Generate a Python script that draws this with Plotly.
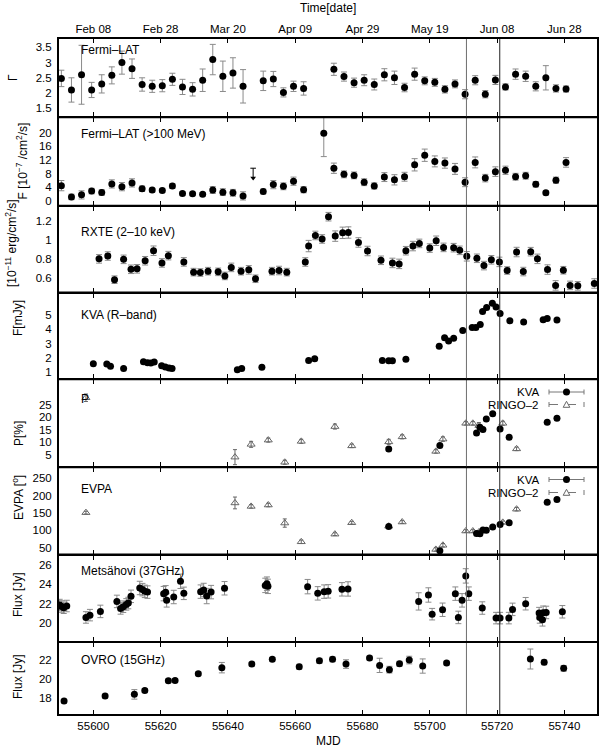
import plotly.graph_objects as go

# ---------------- data ----------------
DATE_MJD = [55600, 55620, 55640, 55660, 55680, 55700, 55720, 55740]
DATE_LABELS = ["Feb 08", "Feb 28", "Mar 20", "Apr 09", "Apr 29", "May 19", "Jun 08", "Jun 28"]
MJD_LABELS = ["55600", "55620", "55640", "55660", "55680", "55700", "55720", "55740"]
FLARE_LINES = [55710.9, 55720.8]

# Fermi-LAT photon index
GAMMA_MJD = [55590.5, 55593.5, 55596.5, 55599.5, 55602.5, 55605.5, 55608.5, 55611.5, 55614.5, 55617.5,
             55620.5, 55623.5, 55626.5, 55629.5, 55632.5, 55635.5, 55638.5, 55641.5, 55644.5,
             55650.5, 55653.5, 55656.5, 55659.5, 55662.5,
             55671.5, 55674.5, 55677.5, 55680.5, 55683.5, 55686.5, 55689.5, 55692.5, 55695.5, 55698.5,
             55701.5, 55704.5, 55707.5, 55710.5, 55713.5, 55716.5, 55719.5, 55722.5, 55725.5, 55728.5,
             55731.5, 55734.5, 55737.5, 55740.5]
GAMMA = [2.48, 2.1, 2.6, 2.1, 2.3, 2.58, 3.0, 2.8, 2.28, 2.22, 2.24, 2.45, 2.2, 2.12, 2.42, 3.1, 2.55, 2.66, 2.22,
         2.4, 2.46, 2.02, 2.22, 2.15,
         2.78, 2.54, 2.34, 2.42, 2.28, 2.6, 2.5, 2.18, 2.62, 2.4, 2.35, 2.12, 2.3, 1.96, 2.42, 1.96, 2.43, 2.2,
         2.62, 2.55, 2.22, 2.5, 2.15, 2.13]
GAMMA_ERR = [0.27, 0.4, 0.97, 0.25, 0.3, 0.28, 0.38, 0.32, 0.22, 0.2, 0.2, 0.2, 0.25, 0.22, 0.37, 0.5, 0.5, 0.5, 0.55,
             0.32, 0.25, 0.15, 0.17, 0.22,
             0.2, 0.15, 0.15, 0.18, 0.18, 0.2, 0.22, 0.14, 0.2, 0.13, 0.13, 0.12, 0.13, 0.15, 0.15, 0.12, 0.15, 0.1,
             0.17, 0.17, 0.15, 0.4, 0.12, 0.1]

# Fermi-LAT flux > 100 MeV
FLUX_MJD = [55590.5, 55593.5, 55596.5, 55599.5, 55602.5, 55605.5, 55608.5, 55611.5, 55614.5, 55617.5,
            55620.5, 55623.5, 55626.5, 55629.5, 55632.5, 55635.5, 55638.5, 55641.5, 55644.5,
            55650.5, 55653.5, 55656.5, 55659.5, 55662.5, 55668.5,
            55671.5, 55674.5, 55677.5, 55680.5, 55683.5, 55686.5, 55689.5, 55692.5, 55695.5, 55698.5,
            55701.5, 55704.5, 55707.5, 55710.5, 55713.5, 55716.5, 55719.5, 55722.5, 55725.5, 55728.5,
            55731.5, 55734.5, 55737.5, 55740.5]
FLUX = [4.5, 1.2, 1.8, 2.9, 2.5, 5.0, 4.2, 5.3, 3.6, 3.2, 3.1, 4.4, 2.2, 2.1, 2.0, 3.2, 2.6, 2.4, 1.5,
        2.8, 4.8, 4.3, 5.8, 3.3, 19.8,
        9.6, 7.8, 7.5, 5.5, 4.4, 7.0, 6.2, 7.1, 10.6, 13.4, 11.6, 11.1, 9.4, 5.5, 11.3, 6.7, 8.6, 9.0,
        7.1, 7.4, 4.9, 2.4, 6.1, 11.3]
FLUX_ERR = [1.5, 0.8, 1.2, 0.8, 0.8, 1.2, 1.2, 1.2, 0.8, 0.6, 0.6, 0.7, 0.5, 0.5, 0.5, 1.0, 1.0, 1.0, 1.2,
            0.7, 1.2, 1.0, 1.2, 0.9, 6.8,
            1.5, 1.0, 1.0, 1.0, 0.9, 1.3, 1.5, 1.3, 1.8, 1.8, 1.6, 1.5, 1.6, 1.3, 1.6, 1.1, 1.4, 1.2,
            1.0, 1.0, 0.8, 0.6, 0.9, 1.4]
UL_MJD = [55647.5]
UL_VALUE = [9.6]
UL_ARROW = [6.7]

# RXTE 2-10 keV
RXTE_MJD = [55601.7, 55604.3, 55606.3, 55609.0, 55611.2, 55613.0, 55615.4, 55617.9, 55620.4, 55622.3,
            55626.9, 55629.8, 55631.8, 55634.1, 55637.1, 55639.1, 55641.0, 55643.9, 55646.2, 55648.2,
            55653.1, 55655.2, 55657.5, 55663.0, 55664.0, 55666.0, 55668.0, 55669.9, 55671.9, 55674.1,
            55675.8, 55678.8, 55681.5, 55685.5, 55688.9, 55690.9, 55692.9, 55695.0, 55696.9, 55700.0,
            55701.9, 55704.1, 55707.1, 55708.9, 55711.0, 55714.0, 55716.1, 55718.3, 55720.7, 55723.0,
            55725.8, 55727.8, 55730.0, 55732.0, 55735.0, 55737.4, 55739.7, 55741.7, 55744.0, 55748.9]
RXTE = [0.80, 0.83, 0.58, 0.795, 0.69, 0.695, 0.78, 0.886, 0.757, 0.834,
        0.768, 0.66, 0.656, 0.67, 0.663, 0.62, 0.71, 0.67, 0.684, 0.59,
        0.67, 0.677, 0.66, 0.767, 0.935, 1.047, 1.01, 1.245, 1.04, 1.075,
        1.078, 0.973, 0.883, 0.785, 0.757, 0.747, 0.886, 0.935, 0.963, 0.914,
        0.991, 0.921, 0.918, 0.89, 0.827, 0.806, 0.729, 0.79, 0.768, 0.677,
        0.872, 0.666, 0.876, 0.80, 0.687, 0.52, 0.68, 0.52, 0.515, 0.54]
RXTE_ERR = [0.045, 0.045, 0.04, 0.045, 0.045, 0.045, 0.045, 0.05, 0.045, 0.045,
            0.045, 0.04, 0.04, 0.04, 0.04, 0.04, 0.045, 0.04, 0.045, 0.04,
            0.04, 0.045, 0.04, 0.045, 0.06, 0.045, 0.045, 0.045, 0.055, 0.06,
            0.06, 0.05, 0.05, 0.045, 0.05, 0.05, 0.045, 0.05, 0.045, 0.045,
            0.05, 0.045, 0.045, 0.045, 0.05, 0.045, 0.045, 0.045, 0.05, 0.04,
            0.05, 0.045, 0.045, 0.05, 0.05, 0.05, 0.04, 0.045, 0.045, 0.05]

# KVA R-band flux
KVA_MJD = [55600.0, 55604.0, 55605.1, 55609.0, 55614.9, 55616.1, 55617.1, 55618.1, 55620.3, 55621.4,
           55622.5, 55623.4, 55642.8, 55644.1, 55650.1, 55664.0, 55665.8, 55685.9, 55687.8, 55688.9,
           55692.9, 55702.8, 55704.4, 55705.6, 55707.1, 55709.8, 55712.6, 55713.7, 55715.0, 55715.7,
           55716.9, 55718.6, 55719.7, 55720.9, 55723.8, 55727.9, 55733.7, 55734.9, 55737.8]
KVA_FLUX = [1.6, 1.58, 1.42, 1.28, 1.74, 1.67, 1.65, 1.72, 1.46, 1.37,
            1.3, 1.28, 1.18, 1.28, 1.35, 1.83, 1.95, 1.83, 1.81, 1.81,
            1.92, 2.82, 3.4, 3.17, 3.36, 3.91, 4.12, 4.12, 4.33, 5.23,
            5.5, 5.8, 5.53, 5.09, 4.58, 4.49, 4.65, 4.74, 4.63]

# Polarization
RINGO_MJD = [55597.8, 55642.1, 55646.9, 55652.0, 55656.9, 55661.8, 55671.8, 55676.8, 55687.8, 55691.8,
             55701.8, 55703.9, 55710.7, 55712.8, 55714.6, 55721.7, 55725.8]
RINGO_P = [27.8, 4.1, 9.2, 10.9, 2.05, 10.4, 16.3, 8.6, 10.2, 12.2, 6.4, 11.3, 17.6, 17.6, 16.7, 17.6, 7.4]
RINGO_P_ERR = [1.5, 3.0, 1.2, 0.8, 0.8, 0.8, 1.0, 0.7, 1.0, 0.8, 0.7, 0.9, 0.7, 0.7, 1.2, 0.8, 0.7]
RINGO_EVPA = [151, 179, 169, 173, 121, 67, 89, 122, 112, 124, 45, 57, 98, 98, 95, 123, 161]
RINGO_EVPA_ERR = [4, 17, 5, 5, 12, 5, 4, 4, 4, 4, 5, 5, 4, 4, 4, 4, 5]

KVAPOL_MJD = [55687.8, 55703.0, 55713.9, 55714.9, 55715.8, 55716.8, 55718.7, 55720.9, 55723.6, 55734.9, 55737.8]
KVA_P = [7.4, 8.7, 13.7, 16.0, 15.1, 19.3, 21.4, 15.3, 12.0, 18.0, 19.6]
KVA_EVPA = [111, 41, 91, 90, 101, 100, 110, 117, 122, 181, 189]

# Metsahovi 37 GHz
MET_MJD = [55590.0, 55590.6, 55591.2, 55592.1, 55597.8, 55599.0, 55602.1, 55607.0, 55608.1, 55608.9,
           55609.8, 55610.4, 55611.2, 55613.8, 55614.6, 55615.3, 55616.1, 55620.9, 55621.5, 55621.8,
           55623.9, 55625.9, 55626.9, 55631.9, 55632.8, 55633.7, 55635.0, 55639.0, 55651.1, 55651.6,
           55651.9, 55663.7, 55666.7, 55668.6, 55669.8, 55673.9, 55675.7, 55696.7, 55699.6, 55700.7,
           55703.8, 55707.6, 55708.5, 55709.6, 55710.7, 55711.6, 55715.6, 55719.7, 55720.9, 55723.5,
           55724.6, 55728.5, 55732.5, 55732.7, 55733.5, 55733.7, 55734.6, 55739.4]
MET_FLUX = [21.85, 21.7, 21.57, 21.75, 20.56, 20.8, 21.19, 22.23, 21.5, 21.68,
            21.92, 22.06, 22.76, 23.63, 23.46, 23.28, 23.2, 23.04, 23.18, 22.34,
            22.69, 24.33, 23.07, 23.25, 23.42, 22.79, 23.2, 23.6, 23.9, 24.08,
            23.8, 23.77, 23.07, 23.25, 23.28, 23.49, 23.53, 22.23, 22.9, 20.9,
            21.36, 23.04, 20.56, 22.34, 24.89, 23.04, 21.54, 20.49, 20.49, 20.49,
            21.4, 21.99, 21.01, 20.56, 20.31, 21.05, 21.08, 21.15]
MET_ERR = [0.6, 0.6, 0.6, 0.6, 0.6, 0.6, 0.65, 0.65, 0.6, 0.6,
           0.6, 0.6, 0.65, 0.7, 0.65, 0.65, 0.65, 0.75, 0.7, 0.7,
           0.7, 0.75, 0.65, 0.7, 0.7, 0.8, 0.7, 0.7, 0.75, 0.7,
           0.75, 0.75, 0.7, 0.7, 0.7, 0.7, 0.75, 0.9, 0.75, 0.6,
           0.7, 0.7, 0.65, 0.7, 0.75, 0.7, 0.65, 0.6, 0.6, 0.6,
           0.65, 0.65, 0.6, 0.6, 0.65, 0.7, 0.65, 0.65]

# OVRO 15 GHz
OVRO_MJD = [55591.3, 55603.5, 55612.2, 55615.3, 55622.3, 55624.3, 55631.2, 55638.2, 55647.1, 55653.2,
            55661.2, 55667.2, 55671.1, 55675.1, 55682.1, 55685.1, 55688.0, 55691.0, 55693.9, 55697.9,
            55705.0, 55729.9, 55734.0, 55739.8]
OVRO_FLUX = [17.65, 18.18, 18.35, 18.77, 19.79, 19.82, 20.53, 21.16, 21.54, 22.04,
             21.26, 21.89, 22.04, 21.54, 22.18, 21.4, 20.95, 21.58, 21.96, 21.33,
             21.65, 22.07, 21.72, 21.09]
OVRO_ERR = [0.2, 0.2, 0.5, 0.2, 0.2, 0.2, 0.2, 0.55, 0.2, 0.2,
            0.25, 0.25, 0.25, 0.45, 0.2, 0.75, 0.35, 0.25, 0.4, 0.75,
            0.2, 1.05, 0.25, 0.3]

# ---------------- layout helpers ----------------
W, H = 600, 751
ML, MR, MT, MB = 58, 2, 38, 36
PW, PH = W - ML - MR, H - MT - MB
def px(x):
    return (x - ML) / PW
def py(y):
    return (H - MB - y) / PH

FONT = "Liberation Sans, Arial, Helvetica, sans-serif"
XR = [55589.5, 55750]
BOUNDS = [38, 117.3, 205.8, 292.5, 379.2, 467.3, 554.5, 642, 715]
YRANGES = [[1.2, 3.81], [-1.4, 24.5], [0.445, 1.36], [0.53, 6.54],
           [0.05, 35.2], [30.4, 281.7], [18.0, 27.12], [16.18, 23.86]]
YTICKS = [[1.5, 2, 2.5, 3, 3.5], [0, 4, 8, 12, 16, 20], [0.6, 0.8, 1, 1.2], [1, 2, 3, 4, 5],
          [5, 10, 15, 20, 25], [50, 100, 150, 200, 250], [20, 22, 24, 26], [18, 20, 22]]
YTICKTEXT = [["1.5", "2", "2.5", "3", "3.5"], None, ["0.6", "0.8", "1", "1.2"], None,
             None, None, None, None]

ERRC = "#8a8a8a"
MS = 7

def ax(i):
    return ("x" if i == 1 else f"x{i}"), ("y" if i == 1 else f"y{i}")

def err(arr, w=3):
    return dict(type="data", array=arr, color=ERRC, thickness=1, width=w)

fig = go.Figure()
dot = dict(symbol="circle", color="black", size=MS)
tri = dict(symbol="triangle-up-open", color="#666666", size=7, line=dict(width=1, color="#666666"))

xa, ya = ax(1)
fig.add_trace(go.Scatter(x=GAMMA_MJD, y=GAMMA, mode="markers", marker=dot, error_y=err(GAMMA_ERR), xaxis=xa, yaxis=ya))
xa, ya = ax(2)
fig.add_trace(go.Scatter(x=FLUX_MJD, y=FLUX, mode="markers", marker=dot, error_y=err(FLUX_ERR), xaxis=xa, yaxis=ya))
fig.add_trace(go.Scatter(x=UL_MJD, y=UL_VALUE, mode="markers",
                         marker=dict(symbol="line-ew", size=4, line=dict(width=1, color="black")),
                         error_y=dict(type="data", symmetric=False, array=[0],
                                      arrayminus=[u - a for u, a in zip(UL_VALUE, UL_ARROW)],
                                      color="black", thickness=1, width=0),
                         xaxis=xa, yaxis=ya))
fig.add_trace(go.Scatter(x=UL_MJD, y=UL_ARROW, mode="markers",
                         marker=dict(symbol="triangle-down", size=5, color="black"), xaxis=xa, yaxis=ya))
xa, ya = ax(3)
fig.add_trace(go.Scatter(x=RXTE_MJD, y=RXTE, mode="markers", marker=dot, error_y=err(RXTE_ERR), xaxis=xa, yaxis=ya))
xa, ya = ax(4)
fig.add_trace(go.Scatter(x=KVA_MJD, y=KVA_FLUX, mode="markers", marker=dot, xaxis=xa, yaxis=ya))
xa, ya = ax(5)
fig.add_trace(go.Scatter(x=RINGO_MJD, y=RINGO_P, mode="markers", marker=tri,
                         error_y=dict(type="data", array=RINGO_P_ERR, color="#666666", thickness=1, width=2),
                         xaxis=xa, yaxis=ya))
fig.add_trace(go.Scatter(x=KVAPOL_MJD, y=KVA_P, mode="markers", marker=dot, xaxis=xa, yaxis=ya))
xa, ya = ax(6)
fig.add_trace(go.Scatter(x=RINGO_MJD, y=RINGO_EVPA, mode="markers", marker=tri,
                         error_y=dict(type="data", array=RINGO_EVPA_ERR, color="#666666", thickness=1, width=2),
                         xaxis=xa, yaxis=ya))
fig.add_trace(go.Scatter(x=KVAPOL_MJD, y=KVA_EVPA, mode="markers", marker=dot, xaxis=xa, yaxis=ya))
xa, ya = ax(7)
fig.add_trace(go.Scatter(x=MET_MJD, y=MET_FLUX, mode="markers", marker=dot, error_y=err(MET_ERR), xaxis=xa, yaxis=ya))
xa, ya = ax(8)
fig.add_trace(go.Scatter(x=OVRO_MJD, y=OVRO_FLUX, mode="markers", marker=dot, error_y=err(OVRO_ERR), xaxis=xa, yaxis=ya))

layout = dict(
    width=W, height=H, showlegend=False,
    margin=dict(l=ML, r=MR, t=MT, b=MB, pad=0),
    paper_bgcolor="white", plot_bgcolor="white",
    font=dict(family=FONT, size=11.5, color="black"),
)
for i in range(1, 9):
    xk = "xaxis" if i == 1 else f"xaxis{i}"
    yk = "yaxis" if i == 1 else f"yaxis{i}"
    xa, ya = ax(i)
    layout[xk] = dict(
        domain=[0, 1], anchor=ya, range=XR, showgrid=False, zeroline=False,
        showline=True, linewidth=1, linecolor="black", mirror="ticks",
        ticks="inside", ticklen=5, tickwidth=1, tickcolor="black",
        tickmode="array", tickvals=DATE_MJD, ticktext=MJD_LABELS,
        showticklabels=(i == 8), tickfont=dict(size=11.5, family=FONT),
        ticklabelstandoff=0,
    )
    if i > 1:
        layout[xk]["matches"] = "x"
    layout[yk] = dict(
        domain=[py(BOUNDS[i]), py(BOUNDS[i - 1])], anchor=xa, range=YRANGES[i - 1],
        showgrid=False, zeroline=False, showline=True, linewidth=1, linecolor="black", mirror=True,
        ticks="", tickmode="array", tickvals=YTICKS[i - 1], tickfont=dict(size=11.5, family=FONT),
        ticklabelstandoff=3,
    )
    if YTICKTEXT[i - 1]:
        layout[yk]["ticktext"] = YTICKTEXT[i - 1]
layout["xaxis9"] = dict(
    overlaying="x", anchor="y", side="top", range=XR, showgrid=False, zeroline=False,
    showline=False, ticks="", tickmode="array", tickvals=DATE_MJD, ticktext=DATE_LABELS,
    tickfont=dict(size=11.5, family=FONT), ticklabelstandoff=2,
)
fig.update_layout(**layout)
# invisible trace so the top date axis is drawn
fig.add_trace(go.Scatter(x=[XR[0]], y=[YRANGES[0][0] - 10], mode="markers", marker=dict(size=1, opacity=0),
                         xaxis="x9", yaxis="y", hoverinfo="skip"))

shapes = []
for j, xm in enumerate(FLARE_LINES):
    shapes.append(dict(type="line", xref="x", yref="paper", x0=xm, x1=xm, y0=0, y1=1,
                       line=dict(color="#6e6e6e" if j == 0 else "#222222", width=1)))
# frame and panel separators
shapes.append(dict(type="rect", xref="paper", yref="paper", x0=0, x1=1, y0=0, y1=1,
                   line=dict(color="black", width=2)))
for b in BOUNDS[1:-1]:
    shapes.append(dict(type="line", xref="paper", yref="paper", x0=0, x1=1, y0=py(b), y1=py(b),
                       line=dict(color="black", width=2)))

annotations = []
def note(text, x, y, size=12, xanchor="left", angle=0, yanchor="middle"):
    annotations.append(dict(text=text, x=px(x), y=py(y), xref="paper", yref="paper", showarrow=False,
                            xanchor=xanchor, yanchor=yanchor, textangle=angle,
                            font=dict(size=size, family=FONT, color="black")))

PANEL_LABELS = ["Fermi–LAT", "Fermi–LAT (>100 MeV)", "RXTE (2–10 keV)", "KVA (R–band)", "P", "EVPA",
                "Metsähovi (37GHz)", "OVRO (15GHz)"]
LABEL_Y = [50, 134.3, 232.3, 315, 399.3, 489.3, 570.7, 660.3]
for t, yy in zip(PANEL_LABELS, LABEL_Y):
    note(t, 78.5, yy, size=12)

YTITLES = ["Γ", "F [10<sup>−7</sup> /cm<sup>2</sup>/s]", "[10<sup>−11</sup> erg/cm<sup>2</sup>/s]",
           "F[mJy]", "P[%]", "EVPA [<sup>o</sup>]", "Flux [Jy]", "Flux [Jy]"]
YTITLE_POS = [(13, 78), (21, 161.5), (11, 243), (18, 318), (19, 434), (18, 498), (18, 595), (18, 677)]
for t, (xx, yy) in zip(YTITLES, YTITLE_POS):
    note(t, xx, yy, size=12, xanchor="center", angle=-90)

note("Time[date]", 328, 8, size=12, xanchor="center")
note("MJD", 328, 741, size=12, xanchor="center")

# legends for panels 5 and 6
for (yk, yr) in [(392, 404.5), (479.5, 492.5)]:
    note("KVA", 541, yk, size=11.5, xanchor="right")
    note("RINGO–2", 541, yr, size=11.5, xanchor="right")
    for yy, dash, col in [(yk, "solid", "#777777"), (yr, "dash", "#777777")]:
        shapes.append(dict(type="line", xref="paper", yref="paper", x0=px(549), x1=px(584), y0=py(yy), y1=py(yy),
                           line=dict(color=col, width=1, dash=dash)))
        for xe in (549, 584):
            shapes.append(dict(type="line", xref="paper", yref="paper", x0=px(xe), x1=px(xe),
                               y0=py(yy - 2.5), y1=py(yy + 2.5), line=dict(color=col, width=1)))
    shapes.append(dict(type="circle", xref="paper", yref="paper", xsizemode="pixel", ysizemode="pixel",
                       xanchor=px(566.5), yanchor=py(yk), x0=-3.5, x1=3.5, y0=-3.5, y1=3.5,
                       fillcolor="black", line=dict(color="black", width=0)))
    shapes.append(dict(type="path", xref="paper", yref="paper", xsizemode="pixel", ysizemode="pixel",
                       xanchor=px(566.5), yanchor=py(yr), path="M -3.3,-2.8 L 3.3,-2.8 L 0,3.2 Z",
                       fillcolor="white", line=dict(color="#666666", width=1)))

fig.update_layout(shapes=shapes, annotations=annotations)
fig.write_html("out.html", config={"responsive": False, "displayModeBar": False},
               post_script="document.body.style.margin='0px';document.body.style.overflow='hidden';")
